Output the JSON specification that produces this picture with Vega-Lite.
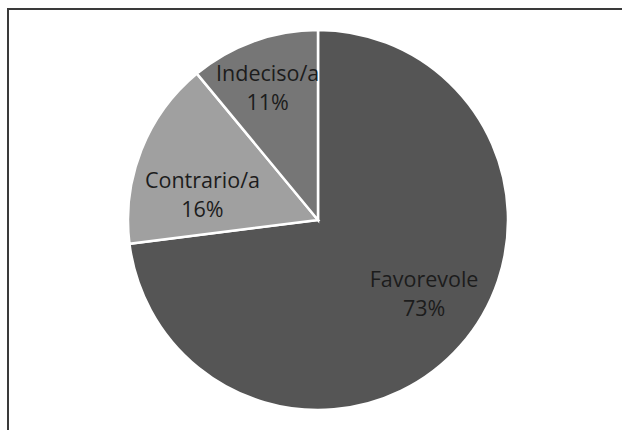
{
  "$schema": "https://vega.github.io/schema/vega-lite/v6.json",
  "autosize": "none",
  "width": 620,
  "height": 422,
  "padding": {"left": 8, "top": 9, "right": 0, "bottom": 0},
  "background": "white",
  "view": {"stroke": "#3a3a3a", "strokeWidth": 2},
  "data": {"values": [
    {"cat": "Favorevole", "value": 73, "idx": 1},
    {"cat": "Contrario/a", "value": 16, "idx": 2},
    {"cat": "Indeciso/a", "value": 11, "idx": 3}
  ]},
  "transform": [{"calculate": "[datum.cat, datum.value + '%']", "as": "label"}],
  "encoding": {
    "theta": {"field": "value", "type": "quantitative", "stack": true},
    "order": {"field": "idx", "type": "quantitative"}
  },
  "layer": [
    {
      "mark": {"type": "arc", "outerRadius": 190, "stroke": "white", "strokeWidth": 2.5},
      "encoding": {
        "color": {"field": "cat", "type": "nominal", "legend": null,
          "scale": {"domain": ["Favorevole", "Contrario/a", "Indeciso/a"], "range": ["#555555", "#a0a0a0", "#767676"]}}
      }
    },
    {
      "mark": {"type": "text", "radius": 130, "thetaOffset": -0.106, "dy": -14.5, "fontSize": 21.5, "font": "Open Sans", "lineHeight": 29, "baseline": "middle", "align": "center"},
      "encoding": {
        "color": {"value": "#1c1c1c"},
        "text": {"condition": {"test": "datum.cat === 'Favorevole'", "field": "label"}, "value": ""}
      }
    },
    {
      "mark": {"type": "text", "radius": 118, "thetaOffset": -0.173, "dy": -14.5, "fontSize": 21.5, "font": "Open Sans", "lineHeight": 29, "baseline": "middle", "align": "center"},
      "encoding": {
        "color": {"value": "#1c1c1c"},
        "text": {"condition": {"test": "datum.cat === 'Contrario/a'", "field": "label"}, "value": ""}
      }
    },
    {
      "mark": {"type": "text", "radius": 142, "thetaOffset": -0.017, "dy": -12.5, "fontSize": 21.5, "font": "Open Sans", "lineHeight": 29, "baseline": "middle", "align": "center"},
      "encoding": {
        "color": {"value": "#1c1c1c"},
        "text": {"condition": {"test": "datum.cat === 'Indeciso/a'", "field": "label"}, "value": ""}
      }
    }
  ]
}
